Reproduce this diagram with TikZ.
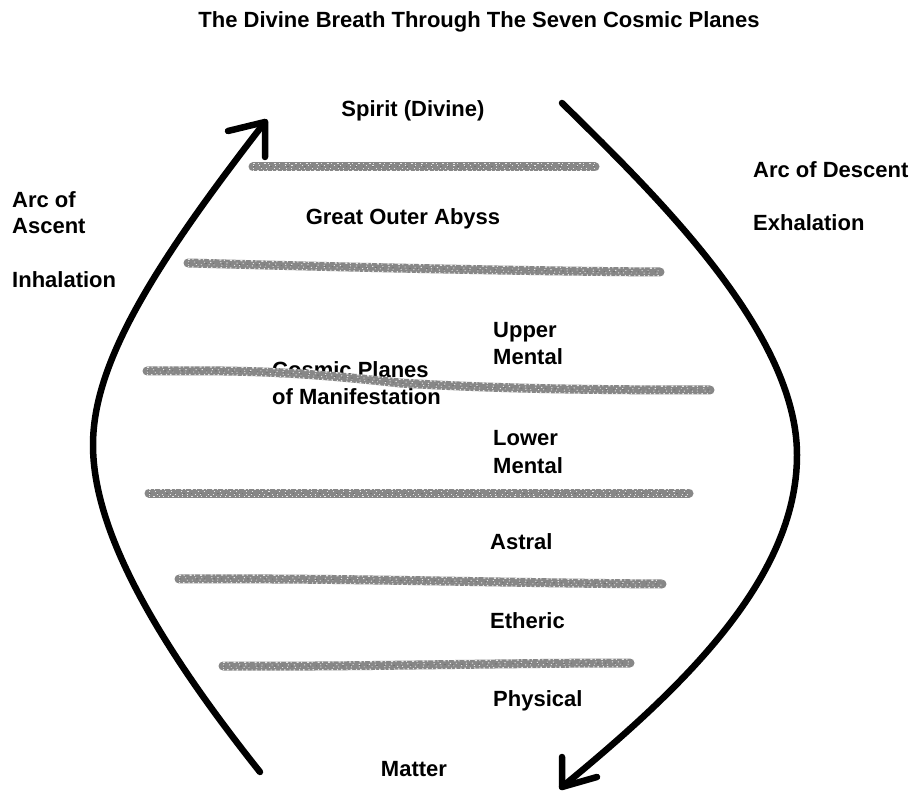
\documentclass[tikz,border=0pt]{standalone}
\usepackage{fontspec}
\setmainfont{Liberation Sans}
\definecolor{planegray}{RGB}{135,135,135}
\definecolor{darkspeck}{RGB}{115,115,115}
\tikzset{
  lbl/.style={inner sep=0pt, font=\fontsize{22}{26.5}\selectfont\bfseries},
  arcline/.style={line width=6.5pt, line cap=round, line join=round, black},
  gline/.style={line width=9pt, line cap=round, planegray},
  speck/.style={line width=1.3pt, white, opacity=0.8},
}
\newcommand\fuzzline[1]{%
  \draw[gline] #1;
  \begin{scope}[yshift=-3.8pt]\draw[speck, dash pattern=on 1pt off 3pt on 1.5pt off 4pt] #1;\end{scope}
  \begin{scope}[yshift=3.8pt]\draw[speck, dash pattern=on 2pt off 2.5pt on 1pt off 5pt] #1;\end{scope}
  \begin{scope}[yshift=1.2pt]\draw[speck, line width=0.9pt, dash pattern=on 1pt off 5pt on 1.2pt off 9pt] #1;\end{scope}
  \begin{scope}[yshift=-1.2pt]\draw[speck, line width=0.9pt, dash pattern=on 0.8pt off 7pt on 1pt off 4pt] #1;\end{scope}
  \begin{scope}[yshift=0pt]\draw[darkspeck, line width=1pt, dash pattern=on 2pt off 6pt on 1pt off 8pt] #1;\end{scope}
}
\begin{document}
\begin{tikzpicture}[x=1pt,y=-1pt]
\useasboundingbox (0,0) rectangle (913,791);
\fill[white] (0,0) rectangle (913,791);

% texts
\node[lbl, anchor=base] (title) at (479,28) {The Divine Breath Through The Seven Cosmic Planes};
\node[lbl, anchor=base] (spirit) at (413,117) {Spirit (Divine)};
\node[lbl, anchor=base west] (descent) at (753,178) {Arc of Descent};
\node[lbl, anchor=base west] (exhal) at (753,231) {Exhalation};
\node[lbl, anchor=base west] (arcof) at (12,208) {Arc of};
\node[lbl, anchor=base west] (ascent) at (12,234) {Ascent};
\node[lbl, anchor=base west] (inhal) at (12,288) {Inhalation};
\node[lbl, anchor=base] (abyss) at (403,225) {Great Outer Abyss};
\node[lbl, anchor=base west] (upper) at (493,338) {Upper};
\node[lbl, anchor=base west] (umental) at (493,365) {Mental};
\node[lbl, anchor=base west] (cosmic) at (272,378) {Cosmic Planes};
\node[lbl, anchor=base west] (manif) at (272,405) {of Manifestation};
\node[lbl, anchor=base west] (lower) at (493,446) {Lower};
\node[lbl, anchor=base west] (lmental) at (493,473) {Mental};
\node[lbl, anchor=base west] (astral) at (490,549) {Astral};
\node[lbl, anchor=base west] (etheric) at (490,628) {Etheric};
\node[lbl, anchor=base west] (physical) at (493,706) {Physical};
\node[lbl, anchor=base] (matter) at (414,776) {Matter};

% plane separators
\fuzzline{(253,167) -- (595,167)}
\fuzzline{(188,263) .. controls (300,266) and (500,271) .. (660,272)}
\fuzzline{(147,371) .. controls (250,370) and (300,372) .. (400,383) .. controls (500,389) and (600,390) .. (710,390)}
\fuzzline{(149,493) -- (689,493)}
\fuzzline{(179,579) .. controls (350,578) and (500,583) .. (662,584)}
\fuzzline{(223,666) .. controls (350,667) and (500,663) .. (630,663)}

% arc of ascent
\coordinate (Lb) at (260,772);
\coordinate (La) at (93,445);
\coordinate (Lt) at (265,122);
\coordinate (Lh1) at (228,131);
\coordinate (Lh2) at (265,157);
\draw[arcline] (Lb) .. controls (155,640) and (93,530) .. (La) .. controls (93,365) and (150,270) .. (Lt);
\draw[arcline] (Lh1) -- (Lt) -- (Lh2);

% arc of descent
\coordinate (Rt) at (562,103);
\coordinate (Ra) at (797,455);
\coordinate (Rb) at (562,787);
\coordinate (Rh1) at (562,757);
\coordinate (Rh2) at (597,777);
\draw[arcline] (Rt) .. controls (650,190) and (797,330) .. (Ra) .. controls (797,580) and (680,690) .. (Rb);
\draw[arcline] (Rh1) -- (Rb) -- (Rh2);
\end{tikzpicture}
\end{document}
